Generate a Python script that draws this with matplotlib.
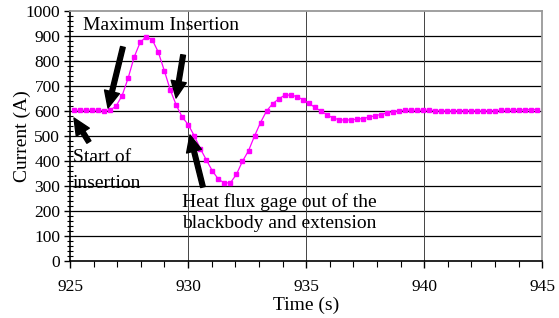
import matplotlib
matplotlib.use("Agg")
import matplotlib.pyplot as plt
import numpy as np
from matplotlib.ticker import MultipleLocator

plt.rcParams['font.family'] = ['Liberation Serif', 'DejaVu Serif']

# sampling of the recorded signal (s)
t_start = 925.17
t_step = 0.2548

current = [603, 603, 603, 603, 603, 601, 603, 620, 662, 732,
           816, 875, 897, 885, 836, 762, 684, 623, 575, 545,
           500, 449, 404, 360, 327, 312, 313, 347, 399, 441,
           500, 554, 600, 629, 648, 663, 664, 658, 646, 631,
           615, 600, 586, 572, 566, 563, 565, 567, 570, 575,
           581, 586, 592, 597, 601, 603, 603, 603, 603, 603,
           602, 600, 600, 600, 601, 601, 601, 600, 600, 601,
           601, 603, 603, 604, 604, 605, 606, 606]
time = t_start + t_step * np.arange(len(current))

x_ticks = [925, 930, 935, 940, 945]
y_ticks = [0, 100, 200, 300, 400, 500, 600, 700, 800, 900, 1000]

fig = plt.figure(figsize=(5.59, 3.18), dpi=100)
ax = fig.add_axes([70/559, 57/318, 472.3/559, 250/318])

ax.plot(time, current, color='#FF00FF', lw=0.9, marker='s', ms=3.2,
        mec='#FF00FF', mfc='#FF00FF', zorder=5, clip_on=False)

ax.set_xlim(925, 945)
ax.set_ylim(0, 1000)
ax.set_xticks(x_ticks)
ax.set_yticks(y_ticks)
ax.xaxis.set_minor_locator(MultipleLocator(1))
ax.yaxis.set_minor_locator(MultipleLocator(20))

for y in y_ticks[1:-1]:
    ax.axhline(y, color='black', lw=0.9, zorder=1)
for x in x_ticks[1:-1]:
    ax.axvline(x, color='#444444', lw=0.7, zorder=1)

ax.spines['top'].set_color('#999999')
ax.spines['right'].set_color('#999999')
ax.spines['top'].set_linewidth(1.3)
ax.spines['right'].set_linewidth(1.3)
ax.spines['left'].set_linewidth(1.2)
ax.spines['bottom'].set_linewidth(1.2)

ax.tick_params(axis='y', which='major', direction='out', length=4, width=1, pad=3, labelsize=12.5)
ax.tick_params(axis='y', which='minor', direction='inout', length=4, width=0.8)
ax.tick_params(axis='x', which='major', direction='out', length=5, width=1, pad=8, labelsize=12.5)
ax.tick_params(axis='x', which='minor', direction='out', length=4, width=0.8)

ax.set_xlabel('Time (s)', fontsize=14, va='center')
ax.set_ylabel('Current (A)', fontsize=14, va='center')
ax.xaxis.set_label_coords(0.5, -0.178)
ax.yaxis.set_label_coords(-0.1, 0.5)

txt = dict(fontsize=14, ha='left', va='center', zorder=6)
ax.text(925.55, 940, 'Maximum Insertion', **txt)
ax.text(925.13, 412, 'Start of', **txt)
ax.text(925.13, 312, 'insertion', **txt)
ax.text(929.74, 237, 'Heat flux gage out of the', **txt)
ax.text(929.74, 151, 'blackbody and extension', **txt)

ap = dict(facecolor='black', edgecolor='black', width=3.4, headwidth=11, headlength=12, shrink=0)
ax.annotate('', xy=(926.61, 612), xytext=(927.24, 856), arrowprops=ap, zorder=7)
ax.annotate('', xy=(929.49, 652), xytext=(929.79, 824), arrowprops=ap, zorder=7)
ax.annotate('', xy=(925.17, 572), xytext=(925.80, 476), arrowprops=ap, zorder=7)
ax.annotate('', xy=(930.08, 504), xytext=(930.63, 296), arrowprops=ap, zorder=7)

fig.savefig('out.png', dpi=100)
